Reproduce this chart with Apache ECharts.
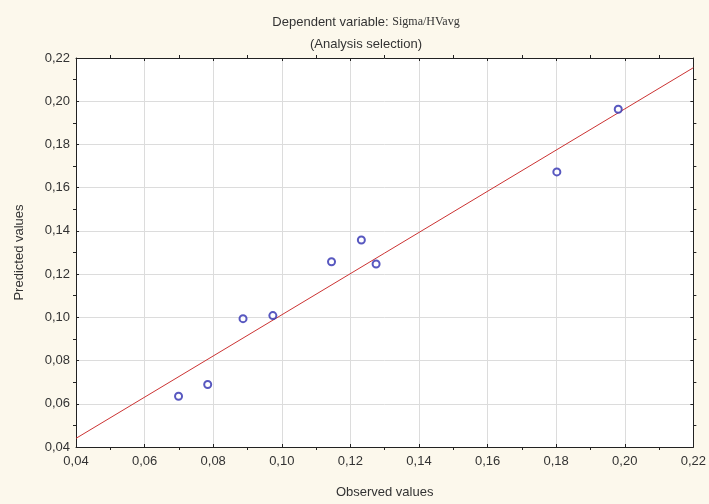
<!DOCTYPE html>
<html>
<head>
<meta charset="utf-8">
<script src="https://cdn.jsdelivr.net/npm/echarts@6/dist/echarts.min.js"></script>
<style>
  html, body { margin: 0; padding: 0; background: #fcf8ec; overflow: hidden; }
  #chart { width: 709px; height: 504px; }
</style>
</head>
<body>
<div id="chart"></div>
<script>
  // observed vs predicted
  const observed = [0.0699, 0.0784, 0.0887, 0.0974, 0.1145, 0.1232, 0.1275, 0.1802, 0.1981];
  const predicted = [0.0635, 0.0689, 0.0994, 0.1008, 0.1257, 0.1358, 0.1247, 0.1673, 0.1963];
  // fitted line end points
  const fitX = [0.04, 0.22];
  const fitY = [0.044, 0.2155];

  const axisMin = 0.04;
  const axisMax = 0.22;
  const step = 0.02;

  const fmt = v => v.toFixed(2).replace('.', ',');
  const labelFont = "'Liberation Sans Narrow', 'Liberation Sans', Arial, sans-serif";

  const points = observed.map((x, i) => [x, predicted[i]]);
  const fitLine = fitX.map((x, i) => [x, fitY[i]]);

  function makeAxis(pos, showLabel) {
    return {
      type: 'value',
      position: pos,
      min: axisMin,
      max: axisMax,
      interval: step,
      axisLine: {show: true, onZero: false, lineStyle: {color: '#222', width: 1}},
      axisTick: {show: true, inside: true, length: 3, lineStyle: {color: '#222'}},
      minorTick: {show: true, splitNumber: 2, length: -3, lineStyle: {color: '#222'}},
      splitLine: {show: showLabel, lineStyle: {color: '#dcdcdc', width: 1}},
      axisLabel: {
        show: showLabel,
        formatter: fmt,
        color: '#333',
        fontSize: 13,
        fontFamily: labelFont,
      },
    };
  }

  const chart = echarts.init(document.getElementById('chart'));

  const xBottom = makeAxis('bottom', true);
  xBottom.axisLabel.margin = 8;
  xBottom.name = 'Observed values';
  xBottom.nameLocation = 'middle';
  xBottom.nameGap = 39;
  xBottom.nameTextStyle = {color: '#333', fontSize: 13, fontFamily: labelFont};

  const yLeft = makeAxis('left', true);
  yLeft.axisLabel.margin = 6;
  yLeft.name = 'Predicted values';
  yLeft.nameLocation = 'middle';
  yLeft.nameGap = 50;
  yLeft.nameTextStyle = {color: '#333', fontSize: 13, fontFamily: labelFont};

  const xTop = makeAxis('top', false);
  const yRight = makeAxis('right', false);

  chart.setOption({
    backgroundColor: '#fcf8ec',
    animation: false,
    title: {
      text: '{a|Dependent variable: }{b|Sigma/HVavg}\n{a|(Analysis selection)}',
      left: 361,
      top: 6,
      textAlign: 'center',
      textStyle: {
        fontWeight: 'normal',
        lineHeight: 22,
        rich: {
          a: {fontSize: 13, color: '#333', fontWeight: 'normal', fontFamily: labelFont, lineHeight: 22},
          b: {fontSize: 12, color: '#333', fontWeight: 'normal', fontFamily: "'Liberation Serif', serif", lineHeight: 22},
        },
      },
    },
    grid: {
      left: 76,
      right: 12,
      top: 58,
      bottom: 56,
      show: true,
      backgroundColor: '#ffffff',
      borderWidth: 0,
    },
    xAxis: [xBottom, xTop],
    yAxis: [yLeft, yRight],
    series: [
      {
        name: 'fit',
        type: 'line',
        xAxisIndex: 0,
        yAxisIndex: 0,
        data: fitLine,
        showSymbol: false,
        lineStyle: {color: '#cc3333', width: 1},
        z: 2,
      },
      {
        name: 'points',
        type: 'scatter',
        xAxisIndex: 0,
        yAxisIndex: 0,
        data: points,
        symbol: 'emptyCircle',
        symbolSize: 7,
        itemStyle: {color: '#2e2eb0', borderColor: '#2e2eb0', borderWidth: 1.2},
        z: 3,
      },
    ],
  });
</script>
</body>
</html>
